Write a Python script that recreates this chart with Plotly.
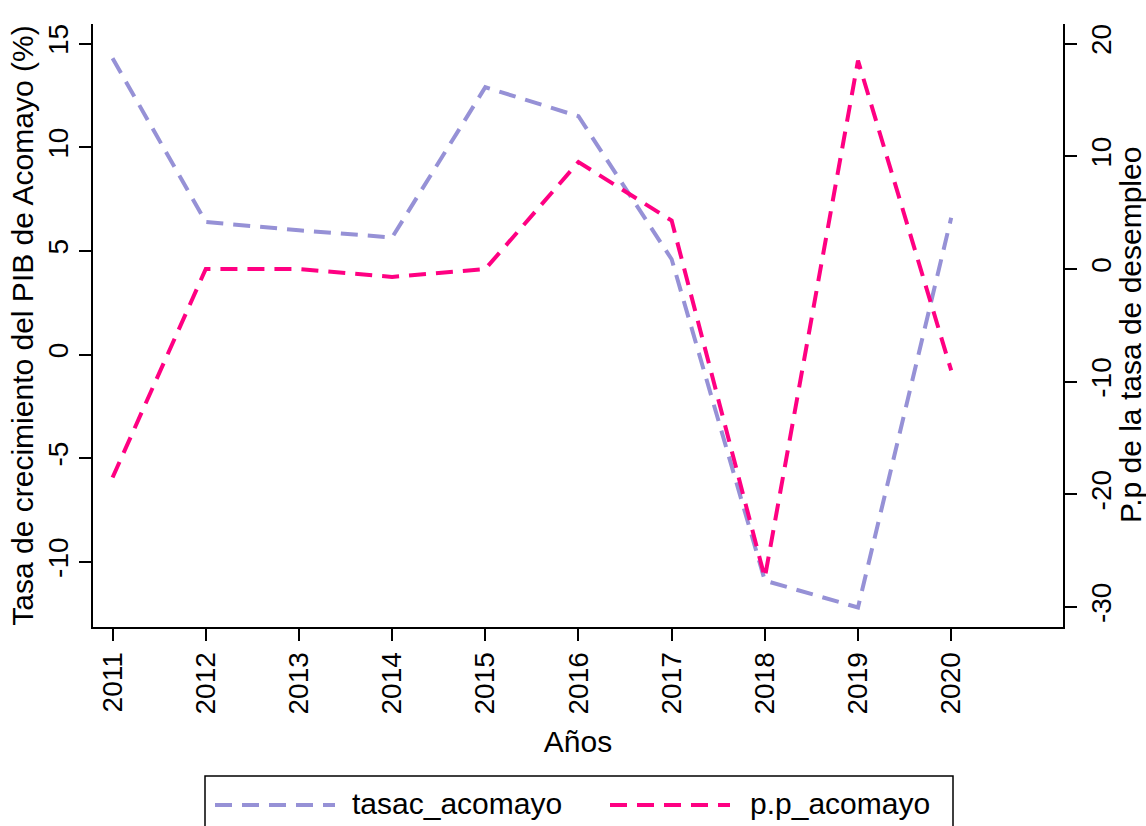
import plotly.graph_objects as go

years = [2011, 2012, 2013, 2014, 2015, 2016, 2017, 2018, 2019, 2020]
tasac_acomayo = [14.3, 6.4, 6.0, 5.65, 12.9, 11.5, 4.6, -10.9, -12.2, 6.6]
pp_acomayo = [-18.5, 0.0, 0.0, -0.7, 0.0, 9.5, 4.3, -27.4, 18.5, -9.0]

left_ticks = [-10, -5, 0, 5, 10, 15]
right_ticks = [-30, -20, -10, 0, 10, 20]

purple = "#9691D6"
pink = "#FF0082"
FONT = "Liberation Sans"
TFS = 28
FS = 30

fig = go.Figure()
fig.add_trace(go.Scatter(x=years, y=tasac_acomayo, mode="lines", name="tasac_acomayo",
                         line=dict(color=purple, width=4, dash="17px,10px"), yaxis="y"))
fig.add_trace(go.Scatter(x=years, y=pp_acomayo, mode="lines", name="p.p_acomayo",
                         line=dict(color=pink, width=4, dash="17px,10px"), yaxis="y2"))

W, H = 1146, 826
L, R, T, B = 93, 83, 24, 199
pw, ph = W - L - R, H - T - B

def px(x):
    return (x - L) / pw

def py(y):
    return (H - B - y) / ph

# custom legend (box, sample lines, labels)
fig.add_shape(type="rect", xref="paper", yref="paper", x0=px(205), x1=px(953), y0=py(845), y1=py(776),
              line=dict(color="black", width=1.5), fillcolor="rgba(0,0,0,0)", layer="below")
legend_items = [("tasac_acomayo", purple, 215, 335, 350), ("p.p_acomayo", pink, 610, 730, 748)]
for name, col, a, b, tx in legend_items:
    fig.add_shape(type="line", xref="paper", yref="paper", x0=px(a), x1=px(b), y0=py(805), y1=py(805),
                  line=dict(color=col, width=4, dash="17px,10px"))
    fig.add_annotation(xref="paper", yref="paper", x=px(tx), y=py(803), text=name, showarrow=False,
                       xanchor="left", yanchor="middle", font=dict(family=FONT, size=FS, color="black"))

# right axis title
fig.add_annotation(xref="paper", yref="paper", x=px(1130), y=py(335), text="P.p de la tasa de desempleo",
                   textangle=-90, showarrow=False, xanchor="center", yanchor="middle",
                   font=dict(family=FONT, size=FS, color="black"))

axis_common = dict(showline=True, linecolor="black", linewidth=2, ticks="outside", ticklen=12,
                   tickwidth=2, tickcolor="black", showgrid=False, zeroline=False, automargin=False,
                   tickfont=dict(family=FONT, size=TFS, color="black"),
                   title_font=dict(family=FONT, size=FS, color="black"))

fig.update_layout(
    width=W, height=H,
    margin=dict(l=L, r=R, t=T, b=B),
    paper_bgcolor="white", plot_bgcolor="white",
    showlegend=False,
    xaxis=dict(range=[2010.79, 2021.2], tickvals=years, ticktext=[str(y) for y in years],
               tickangle=-90, title=dict(text="Años", standoff=18), **axis_common),
    yaxis=dict(range=[-13.14, 15.95], tickvals=left_ticks, ticktext=[str(v) for v in left_ticks],
               tickangle=-90,
               title=dict(text="Tasa de crecimiento del PIB de Acomayo (%)", standoff=0), **axis_common),
    yaxis2=dict(range=[-31.77, 21.75], tickvals=right_ticks, ticktext=[str(v) for v in right_ticks],
                tickangle=-90, overlaying="y", side="right", anchor="x", **axis_common),
)

fig.write_html("out.html", config={"displayModeBar": False},
               post_script="document.body.style.margin='0';")
